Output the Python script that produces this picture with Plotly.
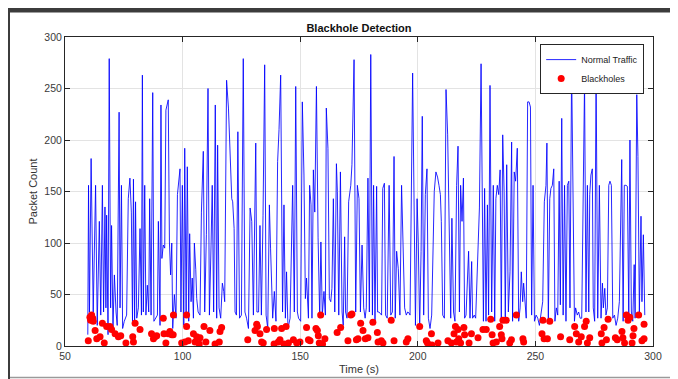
import plotly.graph_objects as go

# ---------------- data ----------------
time_s = [
    59.7, 60.0, 60.4, 61.1, 62.0, 63.0, 63.7, 64.6, 65.2, 65.9, 66.4, 67.0, 67.4, 67.7, 68.3, 68.8,
    69.4, 69.8, 70.4, 71.0, 71.7, 72.2, 73.0, 73.4, 74.0, 74.5, 75.2, 76.2, 76.9, 77.6, 78.2, 78.7,
    79.1, 79.6, 80.0, 80.5, 81.2, 81.9, 82.5, 82.9, 83.3, 83.9, 84.4, 85.0, 85.6, 86.0, 86.6, 87.3,
    87.8, 88.5, 89.3, 89.7, 90.4, 90.8, 91.2, 91.8, 92.4, 92.9, 93.9, 94.4, 94.9, 95.4, 95.8, 96.5,
    97.2, 97.8, 98.5,
    98.9, 99.3, 99.9, 100.5, 100.9, 101.5, 102.0, 102.6, 103.0, 103.6, 104.1, 104.6, 105.0, 105.6,
    106.0, 106.6, 107.4, 108.0, 108.8, 109.4, 110.1, 110.8, 111.4, 112.1, 112.6, 113.2, 113.9, 114.5,
    114.9, 115.5, 116.2, 116.9, 117.5, 117.9, 118.7, 119.5, 120.2, 120.9, 121.3, 121.9, 122.3, 122.9,
    123.5, 124.2, 125.0, 125.8, 126.5, 127.2, 128.0, 128.7, 129.4, 130.1, 131.1, 131.6, 132.3, 132.9,
    133.5, 134.2, 134.9, 135.5, 136.2, 136.9, 137.4, 138.3, 139.0, 139.7, 140.4, 141.0, 141.7,
    142.5, 143.1, 143.7, 144.2, 144.8, 145.7, 146.8, 147.5, 148.1, 148.8, 149.3, 150.2, 150.9, 151.6,
    152.2, 152.7, 153.5, 154.0, 154.6, 155.0, 155.6, 156.2, 156.9, 157.6, 158.3, 158.8, 159.4, 160.1,
    160.7, 161.1, 161.8, 162.4, 163.0, 163.5, 164.1, 164.7, 165.4, 165.8, 166.4, 167.1, 167.8, 168.3,
    168.9, 169.3, 169.9, 170.6, 171.5, 172.0, 172.9, 173.6, 174.3, 175.0, 175.6, 176.3, 177.0, 177.6,
    178.1, 178.8, 179.4, 180.0, 180.7, 181.2, 181.8, 182.5, 182.9, 183.5,
    184.6, 185.1, 185.8, 186.3, 187.0, 187.8, 188.5, 189.2, 189.9, 190.4, 191.0, 191.7, 192.4, 193.1,
    193.9, 194.4, 195.1, 195.7, 196.3, 196.7, 197.8, 198.4, 199.0, 199.7, 200.2, 200.8, 201.4, 201.9,
    202.5, 203.2, 203.9, 204.5, 205.2, 205.9, 206.6, 207.0, 207.7, 208.4, 209.0, 209.6, 210.0, 210.6,
    211.3, 212.0, 212.7, 213.4, 214.0, 214.5, 215.2, 215.8, 216.5, 217.1, 217.7, 218.2, 218.8, 219.4,
    219.9, 220.5, 221.1, 221.6, 222.2, 222.9, 223.3, 224.0, 224.6, 225.3, 226.2, 226.9,
    227.9, 228.4, 229.0, 229.6, 230.1, 230.7, 231.4, 232.1, 232.7, 233.2, 233.8, 234.4, 235.0, 235.5,
    236.1, 236.7, 237.2, 237.8, 238.5, 239.2, 239.9, 240.3, 241.0, 241.6, 242.3, 242.9, 243.5, 244.0,
    244.6, 245.0, 245.6, 246.1, 246.7, 247.3, 247.9, 248.4, 249.0, 249.6, 250.3, 251.0, 251.7, 252.4,
    253.1, 253.8, 254.5, 254.9, 255.5, 256.1, 256.6, 257.2, 257.8, 258.3, 258.9, 259.5, 260.1, 260.6,
    261.2, 261.8, 262.4, 263.0, 263.6, 264.2, 264.7, 265.4, 266.0, 266.6, 267.1, 267.8, 268.4, 269.0,
    269.7, 270.9, 271.5, 272.1, 272.7, 273.1, 273.6, 274.2, 274.6, 275.2, 275.8, 276.5, 277.2, 277.9,
    278.5, 278.9, 279.5, 280.0, 280.6, 281.2, 281.7, 282.3, 282.9, 283.6, 284.3, 285.0, 285.7, 286.3,
    286.7, 287.3, 287.8, 288.5, 289.1, 289.7, 290.2, 290.8, 291.4, 292.0, 292.4, 293.1, 293.6, 294.2,
    294.9, 295.3, 295.9, 296.5,
]
packets = [
    11, 156, 33, 182, 33, 156, 20, 121, 30, 156, 33, 135, 37, 127, 11, 279,
    37, 117, 17, 69, 33, 20, 227, 37, 156, 17, 24, 30, 143, 163, 130, 24,
    162, 24, 140, 27, 37, 114, 30, 263, 33, 156, 30, 59, 33, 143, 30, 246,
    24, 27, 30, 121, 20, 234, 85, 98, 95, 229, 239, 101, 69, 100, 17, 50,
    27, 147, 169,
    172, 33, 156, 20, 192, 33, 174, 24, 109, 43, 66, 27, 100, 74,
    46, 33, 30, 130, 189, 33, 108, 250, 30, 98, 156, 33, 234, 27,
    195, 37, 27, 61, 53, 43, 258, 231, 189, 143, 140, 114, 33, 30,
    208, 27, 30, 279, 33, 27, 17, 134, 121, 30, 197, 33, 33, 117,
    30, 127, 273, 30, 17, 137, 95, 27, 53, 24, 179, 210, 263,
    33, 137, 27, 72, 17, 27, 156, 33, 252, 33, 27, 24, 237, 166,
    46, 66, 27, 156, 137, 27, 171, 130, 252, 105, 27, 101, 30, 53,
    30, 231, 192, 46, 43, 56, 143, 33, 177, 150, 30, 169, 33, 20,
    106, 33, 27, 140, 156, 176, 278, 33, 156, 143, 33, 98, 37, 27,
    37, 163, 33, 283, 30, 156, 24, 155, 33, 33,
    30, 153, 158, 30, 27, 156, 30, 33, 184, 27, 92, 75, 30, 156,
    61, 37, 30, 33, 32, 30, 265, 156, 20, 143, 101, 17, 92, 223,
    30, 147, 172, 27, 17, 30, 98, 150, 169, 164, 156, 147, 121, 30,
    27, 249, 205, 117, 27, 124, 33, 24, 156, 194, 33, 156, 121, 163,
    27, 30, 72, 92, 27, 82, 27, 30, 27, 75, 134, 274,
    24, 153, 24, 137, 30, 253, 33, 156, 24, 143, 156, 147, 171, 24,
    205, 150, 27, 176, 33, 72, 198, 24, 169, 160, 192, 24, 37, 72,
    43, 61, 43, 27, 237, 237, 232, 30, 156, 24, 30, 27, 20, 30,
    43, 140, 156, 197, 24, 143, 153, 156, 172, 24, 37, 30, 160, 40,
    221, 30, 156, 24, 156, 160, 37, 270, 166, 24, 37, 30, 33, 27,
    27, 257, 33, 156, 33, 147, 166, 172, 37, 24, 265, 27, 156, 27,
    61, 37, 56, 30, 37, 156, 160, 156, 27, 30, 20, 27, 43, 160,
    181, 24, 156, 156, 155, 30, 200, 33, 24, 79, 27, 244, 184, 33,
    126, 43, 108, 30,
]

bh_time = [
    59.9, 60.6, 60.9, 61.3, 61.8, 62.0, 62.8, 63.5, 64.9, 65.9, 66.7, 67.7, 69.1, 69.8, 71.3, 72.7,
    73.7, 75.9, 78.8, 79.1, 79.8, 81.9, 86.8, 87.6, 88.3, 89.0, 91.8, 92.1, 92.9, 93.9, 94.6, 95.4,
    96.1, 96.0, 99.6, 101.0, 101.7, 101.7, 102.4, 104.6, 105.3, 106.0, 107.1, 107.4, 109.1, 109.9,
    111.6, 113.8, 115.6, 115.9, 116.6, 127.7, 130.8, 131.5, 131.8, 132.9, 133.6, 134.3, 135.7, 138.9,
    139.0, 140.7, 141.4, 142.1, 143.1, 144.0, 145.0, 147.1, 148.5, 149.9, 152.7, 153.5, 154.2, 156.7,
    157.3, 157.7, 158.1, 158.7, 159.5, 160.5, 165.7, 167.2,
    170.3, 171.5, 172.0, 173.9, 174.6, 175.7, 176.7, 177.7, 178.8, 180.9, 182.8, 183.1, 184.5, 185.2,
    188.7, 189.9, 195.1, 195.8, 200.8, 203.6, 204.1, 205.8, 206.0, 208.6, 212.8, 214.3, 215.4, 216.0,
    216.4, 217.1, 217.4, 218.2, 219.6, 219.9, 221.8, 222.8, 225.6, 227.7, 229.1, 231.0, 231.6, 232.0,
    233.4, 234.8, 235.5, 235.8, 236.2, 237.6, 239.1, 239.8, 241.9, 244.7, 245.0, 252.8, 253.2, 253.7,
    255.1, 256.1, 260.7, 264.6, 266.7, 267.4, 268.4, 269.5, 270.9, 271.6, 272.1, 273.1, 278.0, 278.3,
    279.2, 280.2, 280.9, 284.0, 284.8, 286.8, 287.2, 287.9, 288.7, 289.4, 290.1, 291.1, 291.5, 291.9,
    293.9, 295.3, 296.2, 296.2,
]
bh_count = [
    5, 28, 25, 30, 27, 24, 15, 7, 9, 22, 3, 19, 19, 16, 12, 9,
    10, 3, 9, 4, 22, 16, 12, 7, 9, 10, 27, 12, 3, 12, 14, 11,
    30, 11, 3, 4, 30, 19, 5, 12, 4, 9, 2, 8, 19, 4,
    15, 2, 4, 14, 18, 6, 15, 21, 19, 12, 4, 3, 16, 2,
    17, 4, 6, 17, 2, 19, 3, 6, 3, 4, 18, 6, 5, 17,
    15, 10, 3, 30, 2, 7, 13, 18,
    5, 30, 31, 6, 7, 22, 15, 7, 8, 23, 13, 4, 5, 3,
    25, 5, 4, 7, 19, 5, 3, 12, 1, 3, 5, 3, 12, 19,
    4, 16, 7, 3, 18, 11, 3, 12, 8, 16, 16, 26, 11, 3,
    4, 19, 11, 7, 25, 25, 3, 6, 30, 7, 4, 12, 25, 7,
    7, 24, 9, 6, 19, 12, 4, 9, 19, 24, 3, 8, 12, 3,
    18, 6, 26, 8, 6, 14, 8, 3, 30, 25, 28, 3, 10, 17,
    30, 5, 21, 7,
]

x_ticks = [50, 100, 150, 200, 250, 300]
y_ticks = [0, 50, 100, 150, 200, 250, 300]

# ---------------- figure ----------------
FONT = "Liberation Sans, Arial, Helvetica, sans-serif"
AXC = "#262626"
PAGE_OFFSET = 8  # default body margin of the written page

fig = go.Figure()
fig.add_trace(go.Scatter(
    x=time_s, y=packets, mode="lines", name="Normal Traffic",
    line=dict(color="rgba(0,0,255,0.85)", width=1),
))
fig.add_trace(go.Scatter(
    x=bh_time, y=bh_count, mode="markers", name="Blackholes",
    marker=dict(color="#ff0000", size=7, line=dict(width=0)),
))

axis_common = dict(
    showline=True, linecolor=AXC, linewidth=1, mirror="ticks",
    ticks="inside", ticklen=5, tickcolor=AXC, tickwidth=1,
    showgrid=True, gridcolor="#e3e3e3", gridwidth=1, zeroline=False,
    tickfont=dict(family=FONT, size=10.5, color="#3a3a3a"),
)

W, H = 678 - PAGE_OFFSET, 379 - PAGE_OFFSET

fig.update_layout(
    width=W, height=H,
    margin=dict(l=65 - PAGE_OFFSET, r=25, t=37 - PAGE_OFFSET, b=H - (346 - PAGE_OFFSET)),
    paper_bgcolor="white", plot_bgcolor="white",
    font=dict(family=FONT, color=AXC),
    title=dict(text="<b>Blackhole Detection</b>", x=0.5, xref="paper", xanchor="center",
               y=1 - (28 - PAGE_OFFSET) / H, yref="container", yanchor="middle",
               font=dict(family=FONT, size=11, color="#111111")),
    xaxis=dict(range=[50, 300], tickvals=x_ticks, ticktext=[str(v) for v in x_ticks],
               title=dict(text="Time (s)", standoff=4, font=dict(family=FONT, size=11, color="#333333")),
               automargin=False, **axis_common),
    yaxis=dict(range=[0, 300], tickvals=y_ticks, ticktext=[str(v) for v in y_ticks],
               title=dict(text="Packet Count", standoff=4, font=dict(family=FONT, size=11, color="#333333")),
               automargin=False, **axis_common),
    legend=dict(x=0.985, y=0.977, xanchor="right", yanchor="top",
                bgcolor="white", bordercolor=AXC, borderwidth=1,
                font=dict(family=FONT, size=9, color="#222222"),
                tracegroupgap=0, itemwidth=30),
    showlegend=True,
)

# window frame of the screenshot (dark bars on top/left, thin line at bottom)
def px_x(p):
    return (p - 65) / 588.0

def px_y(p):
    return (346 - p) / 309.0

fig.add_shape(type="rect", xref="paper", yref="paper",
              x0=px_x(5), x1=px_x(679), y0=px_y(12.5), y1=px_y(8),
              fillcolor="#3c3c3c", line=dict(width=0), layer="above")
fig.add_shape(type="rect", xref="paper", yref="paper",
              x0=px_x(5), x1=px_x(10), y0=px_y(380), y1=px_y(8),
              fillcolor="#3c3c3c", line=dict(width=0), layer="above")
fig.add_shape(type="line", xref="paper", yref="paper",
              x0=px_x(10), x1=px_x(679), y0=px_y(377.5), y1=px_y(377.5),
              line=dict(color="#9a9a9a", width=1.5), layer="above")

fig.write_html("out.html")
